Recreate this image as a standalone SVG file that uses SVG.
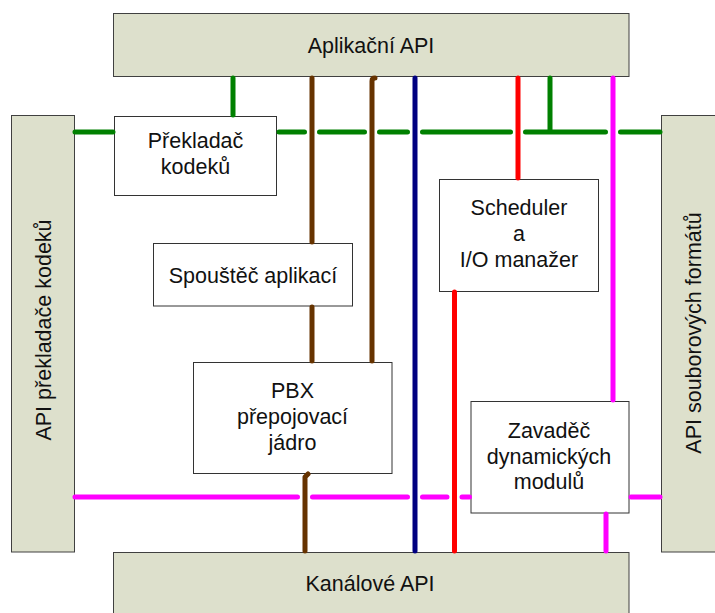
<svg xmlns="http://www.w3.org/2000/svg" width="715" height="613" viewBox="0 0 715 613">
<style>
.bar{fill:#DDE0CC;stroke:#404040;stroke-width:1}
.box{fill:#FFFFFF;stroke:#333333;stroke-width:1}
text{font-family:"Liberation Sans",Arial,sans-serif;font-size:21.5px;fill:#111111;text-anchor:middle}
.c{fill:none;stroke-width:5;stroke-linecap:round;stroke-linejoin:round}
.g{stroke:#008000}.b{stroke:#663300}.n{stroke:#000080}.r{stroke:#FF0000}.m{stroke:#FF00FF}
</style>
<rect width="715" height="613" fill="#FFFFFF"/>
<g id="aplikacni-api"><rect class="bar" x="113.5" y="13.5" width="515.5" height="63"/><text x="371" y="53">Aplikační API</text></g>
<g id="kanalove-api"><rect class="bar" x="113.5" y="552.5" width="515.5" height="63"/><text x="370" y="591">Kanálové API</text></g>
<g id="api-prekladace"><rect class="bar" x="11.5" y="115.5" width="63" height="436.5"/><text transform="translate(51,330) rotate(-90)">API překladače kodeků</text></g>
<g id="api-souborovych"><rect class="bar" x="661.5" y="115.5" width="63" height="436.5"/><text transform="translate(701,333) rotate(-90)">API souborových formátů</text></g>
<g id="prekladac"><rect class="box" x="114.5" y="116.5" width="162" height="79"/><text x="195.5" y="148">Překladač</text><text x="195.5" y="174">kodeků</text></g>
<g id="spoustec"><rect class="box" x="153.5" y="243.5" width="199" height="62.5"/><text x="253" y="283">Spouštěč aplikací</text></g>
<g id="scheduler"><rect class="box" x="439.5" y="179.5" width="159" height="112"/><text x="519" y="215">Scheduler</text><text x="519" y="241">a</text><text x="519" y="267">I/O manažer</text></g>
<g id="pbx"><rect class="box" x="193.5" y="362.5" width="198.5" height="111"/><text x="292.5" y="398">PBX</text><text x="292.5" y="424">přepojovací</text><text x="292.5" y="450">jádro</text></g>
<g id="zavadec"><rect class="box" x="471" y="401.5" width="158" height="111.5"/><text x="549" y="438">Zavaděč</text><text x="549" y="463.5">dynamických</text><text x="549" y="489">modulů</text></g>
<g id="connectors">
<path class="c g" d="M233 78V115M550 78V132M75 132H113M279 132H304.5M319.5 132H364.5M379.5 132H407.5M422.5 132H510.5M525.5 132H605.5M620.5 132H660"/>
<path class="c b" d="M312 78V242M312 307V361M375 78Q372 78 372 81V361M308 474L305 477V551"/>
<path class="c n" d="M415 78V551"/>
<path class="c r" d="M518 78V178M454.5 292V551"/>
<path class="c m" d="M613 78V400M606 514V551M75 497H297.5M312.5 497H407.5M422.5 497H447M462 497H469.5M631 497H660"/>
</g>
</svg>
